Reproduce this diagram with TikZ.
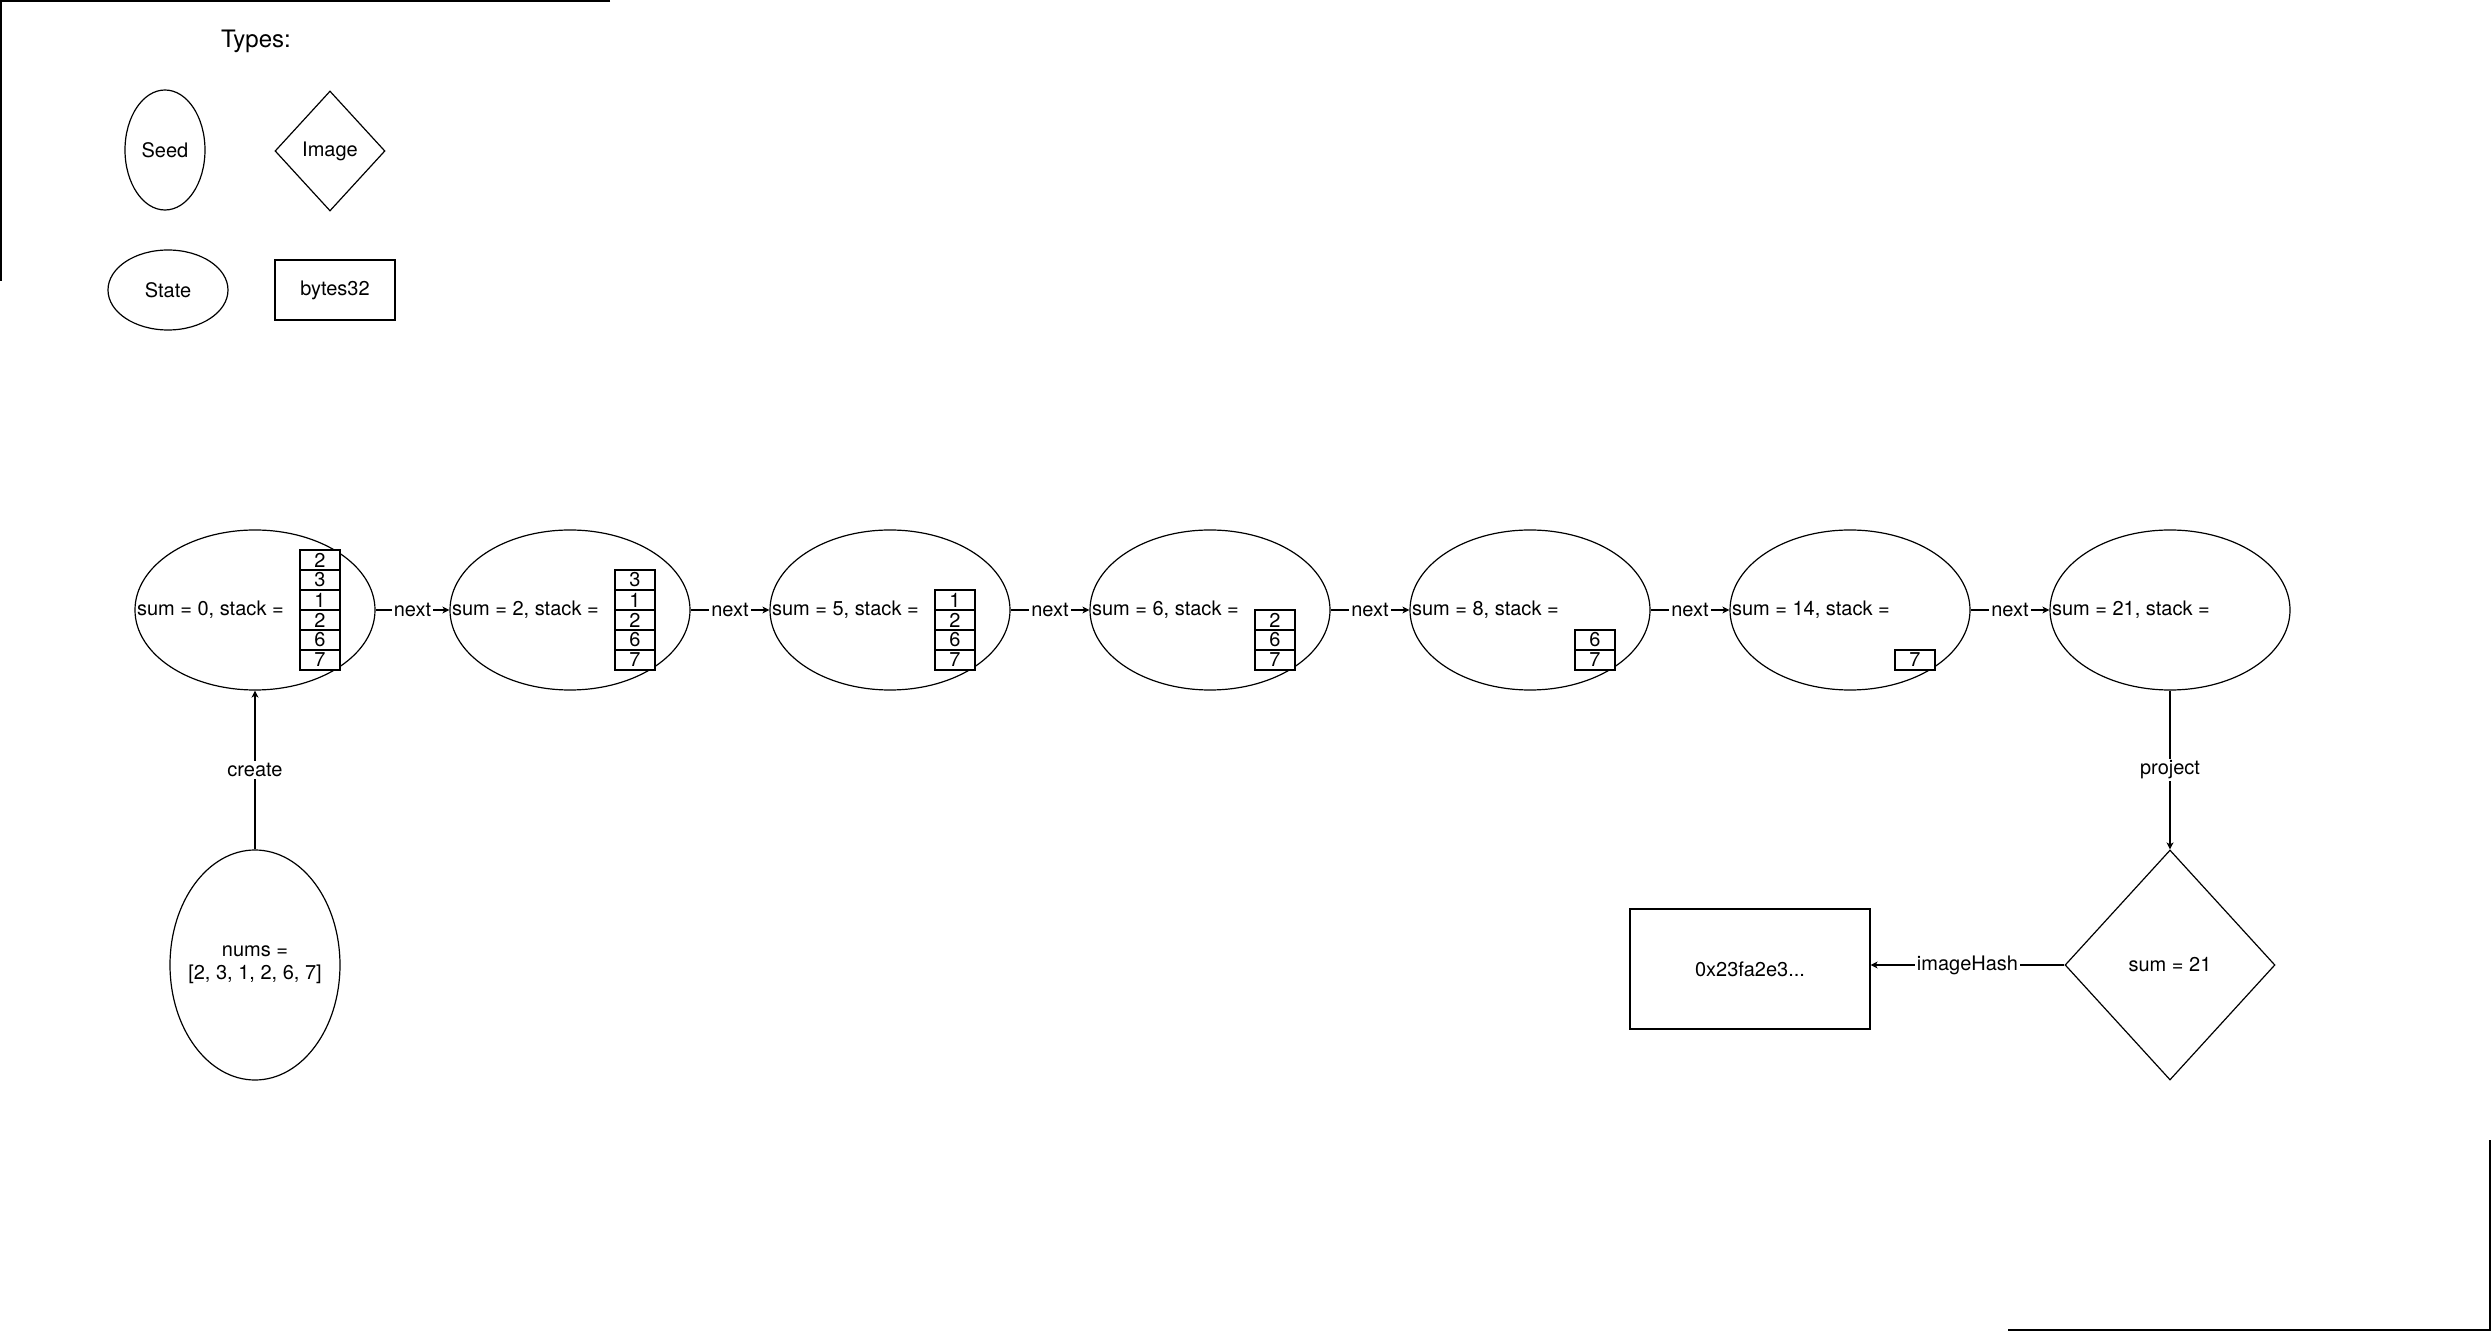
\documentclass[tikz,border=0pt]{standalone}
\usepackage{fontspec}
\setmainfont{TeX Gyre Heros}
\usetikzlibrary{shapes,arrows.meta}

\tikzset{
  state/.style={draw, ellipse, minimum width=120pt, minimum height=80pt, inner sep=0pt},
  seed/.style={draw, ellipse, inner sep=0pt},
  image/.style={draw, diamond, inner sep=0pt},
  word/.style={draw, rectangle, inner sep=0pt},
  cell/.style={draw, fill=white, rectangle, minimum width=20pt, minimum height=10pt, inner sep=0pt},
  lbl/.style={fill=white, inner sep=1pt},
  arr/.style={-{Stealth[length=3.5pt,width=3.5pt,inset=1pt]}},
}

\begin{document}
\begin{tikzpicture}[x=0.5pt, y=-0.5pt, line width=0.6pt, font=\fontsize{10pt}{11.5pt}\selectfont]
    \useasboundingbox (0,0) rectangle (2491,1331);
    % corner marks
    \draw[line width=1pt] (610,1) -- (1,1) -- (1,281);
    \draw[line width=1pt] (2008,1330) -- (2490,1330) -- (2490,1140);

    % legend
    \node (types) at (256,41) {\fontsize{12pt}{14pt}\selectfont Types:};
    \node[seed, minimum width=40pt, minimum height=60pt] (seedkey) at (165,150) {Seed};
    \node[image, minimum width=55pt, minimum height=60pt] (imagekey) at (330,151) {Image};
    \node[state, minimum width=60pt, minimum height=40pt] (statekey) at (168,290) {State};
    \node[word, minimum width=60pt, minimum height=30pt] (wordkey) at (335,290) {bytes32};

    % states
    \foreach \i/\cx/\sm in {0/255/0, 1/570/2, 2/890/5, 3/1210/6, 4/1530/8, 5/1850/14, 6/2170/21} {
        \node[state] (s\i) at (\cx,610) {};
        \node[anchor=west, inner sep=0pt] (t\i) at ([xshift=1pt]s\i.west) {sum = \sm, stack =};
    }
    % stacks, bottom cell first
    \foreach \i/\cx/\stk in {0/255/{7,6,2,1,3,2}, 1/570/{7,6,2,1,3}, 2/890/{7,6,2,1},
                             3/1210/{7,6,2}, 4/1530/{7,6}, 5/1850/{7}} {
        \foreach \v [count=\j from 0] in \stk
            \node[cell] (c\i-\j) at (\cx+65,660-20*\j) {\v};
    }
    \foreach \i [evaluate=\i as \j using int(\i+1)] in {0,...,5}
        \draw[arr] (s\i) -- node[lbl] {next} (s\j);

    % seed
    \node[seed, inner xsep=-15pt, minimum width=85pt, minimum height=115pt, align=center] (nums) at (255,965) {nums =\\{}[2, 3, 1, 2, 6, 7]};
    \draw[arr] (nums) -- node[lbl] {create} (s0);

    % image and hash
    \node[image, minimum width=105pt, minimum height=115pt] (img) at (2170,965) {sum = 21};
    \draw[arr] (s6) -- node[lbl] {project} (img);
    \node[word, minimum width=120pt, minimum height=60pt] (hash) at (1750,969) {0x23fa2e3...};
    \draw[arr] (img.west) -- node[lbl] {imageHash} (hash.east |- img.west);
\end{tikzpicture}
\end{document}
